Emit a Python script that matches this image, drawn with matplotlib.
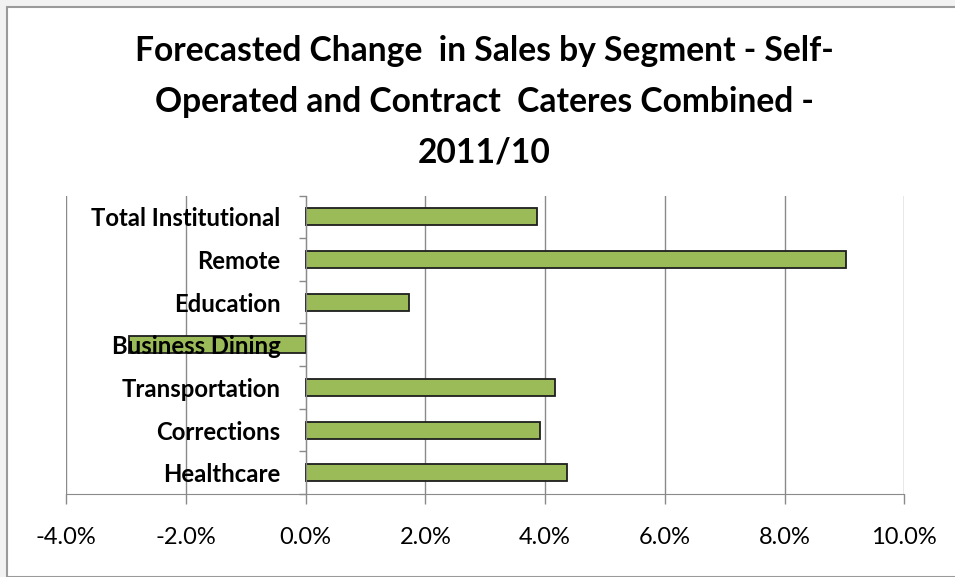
import matplotlib.pyplot as plt
from matplotlib.patches import Rectangle
from matplotlib.ticker import FuncFormatter
import numpy as np

# Forecasted change in sales by segment, 2011 vs 2010 (percent)
segments = ['Healthcare', 'Corrections', 'Transportation', 'Business Dining',
            'Education', 'Remote', 'Total Institutional']
change_pct = [4.37, 3.92, 4.16, -2.95, 1.72, 9.02, 3.86]
x_ticks = [-4, -2, 0, 2, 4, 6, 8, 10]

title = ('Forecasted Change  in Sales by Segment - Self-\n'
         'Operated and Contract  Cateres Combined -\n'
         '2011/10')

plt.rcParams['font.family'] = ['Lato', 'DejaVu Sans']

fig = plt.figure(figsize=(9.55, 5.77), dpi=100)
fig.patch.set_facecolor('#f2f2f2')

# white chart area with grey frame
frame = Rectangle((7 / 955, 0), 1, 1 - 7 / 577, transform=fig.transFigure,
                  facecolor='white', edgecolor='#9a9a9a', linewidth=1.5, zorder=-10)
fig.patches.append(frame)

fig.text(0.507, 1 - 102 / 577, title, ha='center', va='center', fontsize=24.2,
         fontweight='bold', linespacing=1.72)

ax = fig.add_axes([66.3 / 955, 1 - 494 / 577, (904.3 - 66.3) / 955, (494 - 195.5) / 577])
ax.set_facecolor('none')

grid_color = '#8a8a8a'
# vertical gridlines sit behind the bars; the category labels sit on top
for xt in x_ticks:
    ax.axvline(xt, color=grid_color, linewidth=1.0, zorder=0.2)

y = np.arange(len(segments))
ax.barh(y, change_pct, height=0.4, color='#9bbb59', edgecolor='#1e1e1e',
        linewidth=1.3, zorder=0.5)

ax.set_xlim(-4, 10)
ax.set_ylim(-0.5, len(segments) - 0.5)

ax.set_xticks(x_ticks)
ax.xaxis.set_major_formatter(FuncFormatter(lambda v, _: f'{v:.1f}%'))
ax.tick_params(axis='x', direction='out', length=7, width=1, color=grid_color,
               labelsize=17, pad=17)

# category axis crosses at zero; boundary ticks, labels centred on bars
ax.spines['left'].set_position(('data', 0))
ax.spines['left'].set_color(grid_color)
ax.spines['bottom'].set_color(grid_color)
ax.spines['top'].set_visible(False)
ax.spines['right'].set_visible(False)
ax.set_yticks(np.arange(-0.5, len(segments), 1.0))
ax.set_yticklabels([])
ax.tick_params(axis='y', which='major', direction='out', length=5, width=1,
               color=grid_color)
ax.set_yticks(y, minor=True)
ax.set_yticklabels(segments, minor=True, fontsize=17.2, fontweight='bold')
ax.tick_params(axis='y', which='minor', length=0, pad=18)

fig.savefig('out.png', dpi=100)
